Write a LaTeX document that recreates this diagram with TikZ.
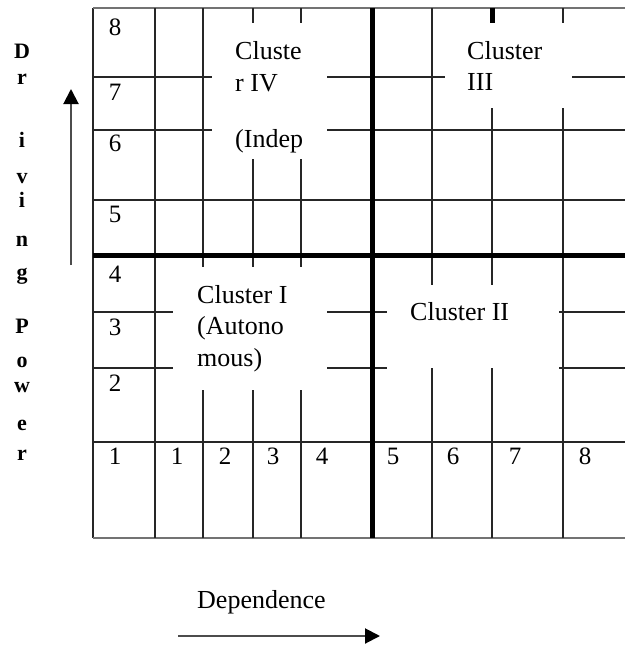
\documentclass[tikz,border=0pt]{standalone}
\usepackage{fontspec}
\setmainfont{Liberation Serif}
\usetikzlibrary{arrows.meta}
\begin{document}
\begin{tikzpicture}[x=1pt,y=-1pt,
  gl/.style={line width=1.8pt, black!85},
  rim/.style={line width=2pt, black!55},
  thickl/.style={line width=5pt, black},
  lbl/.style={font=\fontsize{26}{30}\selectfont, anchor=base west, inner sep=0pt},
  dig/.style={font=\fontsize{25}{30}\selectfont, anchor=base, inner sep=0pt},
  vl/.style={font=\fontsize{22}{26}\selectfont\bfseries, anchor=base, inner sep=0pt},
  arr/.style={line width=2pt, black!70, -{Triangle[length=15pt,width=15pt,color=black]}}]
\useasboundingbox (0,0) rectangle (625,645);
% outer lines
\draw[gl] (93,8) -- (93,538);
\draw[rim] (93,8) -- (625,8);
\draw[rim] (93,538) -- (625,538);
% top-left quadrant
\draw[gl] (155,8) -- (155,538);
\draw[gl] (203,8) -- (203,267);
\draw[gl] (203,390) -- (203,538);
\draw[gl] (253,8) -- (253,23);
\draw[gl] (253,159) -- (253,267);
\draw[gl] (253,390) -- (253,538);
\draw[gl] (301,8) -- (301,23);
\draw[gl] (301,159) -- (301,267);
\draw[gl] (301,390) -- (301,538);
\draw[gl] (93,77) -- (212,77);
\draw[gl] (327,77) -- (372,77);
\draw[gl] (93,130) -- (212,130);
\draw[gl] (327,130) -- (372,130);
\draw[gl] (93,200) -- (625,200);
% top-right quadrant
\draw[gl] (432,8) -- (432,285);
\draw[gl] (432,368) -- (432,538);
\draw[thickl] (492,8) -- (492,23);
\draw[gl] (492,108) -- (492,285);
\draw[gl] (492,368) -- (492,538);
\draw[gl] (563,8) -- (563,23);
\draw[gl] (563,108) -- (563,538);
\draw[gl] (372,77) -- (445,77);
\draw[gl] (572,77) -- (625,77);
\draw[gl] (372,130) -- (625,130);
% lower quadrants
\draw[gl] (93,312) -- (173,312);
\draw[gl] (327,312) -- (387,312);
\draw[gl] (559,312) -- (625,312);
\draw[gl] (93,368) -- (173,368);
\draw[gl] (327,368) -- (387,368);
\draw[gl] (559,368) -- (625,368);
\draw[gl] (93,442) -- (625,442);
% thick dividers
\draw[thickl] (372,8) -- (372,538);
\draw[thickl] (93,255) -- (625,255);
% row digits
\node[dig] (r8) at (115,35) {8};
\node[dig] (r7) at (115,100) {7};
\node[dig] (r6) at (115,151) {6};
\node[dig] (r5) at (115,222) {5};
\node[dig] (r4) at (115,282) {4};
\node[dig] (r3) at (115,335) {3};
\node[dig] (r2) at (115,391) {2};
\node[dig] (r1) at (115,464) {1};
% column digits
\node[dig] (c1) at (177,464) {1};
\node[dig] (c2) at (225,464) {2};
\node[dig] (c3) at (273,464) {3};
\node[dig] (c4) at (322,464) {4};
\node[dig] (c5) at (393,464) {5};
\node[dig] (c6) at (453,464) {6};
\node[dig] (c7) at (515,464) {7};
\node[dig] (c8) at (585,464) {8};
% cluster labels
\node[lbl] (k4a) at (235,59) {Cluste};
\node[lbl] (k4b) at (235,91) {r IV};
\node[lbl] (k4c) at (235,147) {(Indep};
\node[lbl] (k3a) at (467,59) {Cluster};
\node[lbl] (k3b) at (467,90) {III};
\node[lbl] (k1a) at (197,303) {Cluster I};
\node[lbl] (k1b) at (197,334) {(Autono};
\node[lbl] (k1c) at (197,366) {mous)};
\node[lbl] (k2a) at (410,320) {Cluster II};
% vertical axis label
\node[vl] (v1) at (22,58) {D};
\node[vl] (v2) at (22,84) {r};
\node[vl] (v3) at (22,147) {i};
\node[vl] (v4) at (22,183) {v};
\node[vl] (v5) at (22,207) {i};
\node[vl] (v6) at (22,246) {n};
\node[vl] (v7) at (22,279) {g};
\node[vl] (v8) at (22,333) {P};
\node[vl] (v9) at (22,367) {o};
\node[vl] (v10) at (22,392) {w};
\node[vl] (v11) at (22,430) {e};
\node[vl] (v12) at (22,460) {r};
% horizontal axis label
\node[lbl] (dep) at (197,608) {Dependence};
% arrows
\coordinate (va) at (71,265);
\coordinate (vb) at (71,89);
\draw[arr] (va) -- (vb);
\coordinate (ha) at (178,636);
\coordinate (hb) at (380,636);
\draw[arr] (ha) -- (hb);
\end{tikzpicture}
\end{document}
